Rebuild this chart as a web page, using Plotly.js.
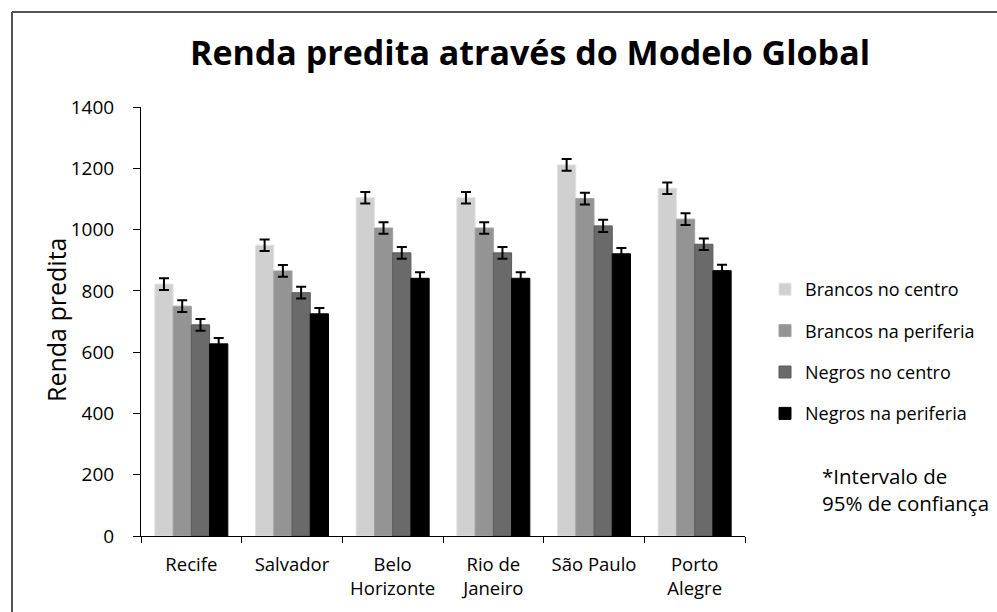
<!DOCTYPE html>
<html>
<head>
<meta charset="utf-8">
<script src="https://cdn.plot.ly/plotly-3.0.1.min.js"></script>
<style>html,body{margin:0;padding:0;background:#fff;}#chart{width:997px;height:612px;}</style>
</head>
<body>
<div id="chart"></div>
<script>
// Data
var cities = ["Recife", "Salvador", "Belo<br>Horizonte", "Rio de<br>Janeiro", "São Paulo", "Porto<br>Alegre"];
var seriesNames = ["Brancos no centro", "Brancos na periferia", "Negros no centro", "Negros na periferia"];
var brancosCentro    = [822, 949, 1104, 1104, 1211, 1135];
var brancosPeriferia = [750, 865, 1005, 1005, 1101, 1034];
var negrosCentro     = [689, 794, 924, 924, 1012, 952];
var negrosPeriferia  = [627, 725, 841, 841, 921, 866];
var errBrancosCentro    = [19, 19, 19, 19, 19, 19];
var errBrancosPeriferia = [19, 19, 19, 19, 19, 19];
var errNegrosCentro     = [19, 19, 19, 19, 20, 19];
var errNegrosPeriferia  = [19, 19, 20, 20, 19, 19];
var yTicks = [0, 200, 400, 600, 800, 1000, 1200, 1400];
var yTitle = "Renda predita";
var chartTitle = "Renda predita através do Modelo Global";
var noteText = "*Intervalo de<br>95% de confiança";

var values = [brancosCentro, brancosPeriferia, negrosCentro, negrosPeriferia];
var errors = [errBrancosCentro, errBrancosPeriferia, errNegrosCentro, errNegrosPeriferia];
var colors = ["#d0d0d0", "#949494", "#6a6a6a", "#000000"];
var lineColors = ["#e2e2e2", "#a0a0a0", "#5a5a5a", "#000000"];

var FONT = "'Open Sans', Lato, sans-serif";
var traces = values.map(function (v, i) {
  return {
    type: "bar",
    name: seriesNames[i],
    x: cities,
    y: v,
    legendgroup: "g" + i,
    marker: {color: colors[i], line: {color: lineColors[i], width: 1}},
    error_y: {type: "data", array: errors[i], visible: true, color: "#000", thickness: 2, width: 5}
  };
});

var W = 997, H = 612;
var L = 141, R = 252, T = 107, B = 76;
var pw = W - L - R, ph = H - T - B;
function px2x(p) { return (p - L) / pw; }
function py2y(p) { return (H - B - p) / ph; }

var layout = {
  width: W, height: H,
  margin: {l: L, r: R, t: T, b: B, pad: 0},
  paper_bgcolor: "#fff", plot_bgcolor: "#fff",
  font: {family: FONT, size: 18, color: "#000"},
  title: {
    text: "<b>" + chartTitle + "</b>",
    font: {family: FONT, size: 34, color: "#000"},
    x: 530 / W, xref: "container", xanchor: "center",
    y: 1 - 53 / H, yref: "container", yanchor: "middle"
  },
  barmode: "group",
  bargap: 0.275,
  bargroupgap: 0,
  xaxis: {
    type: "category",
    showline: true, linecolor: "#000", linewidth: 1,
    ticks: "outside", tickson: "boundaries", ticklen: 6, tickcolor: "#000",
    tickfont: {family: FONT, size: 18.5, color: "#000"},
    ticklabelstandoff: 12,
    showgrid: false, zeroline: false, fixedrange: true
  },
  yaxis: {
    range: [0, 1400],
    tickvals: yTicks,
    ticktext: yTicks.map(String),
    showline: true, linecolor: "#000", linewidth: 1,
    ticks: "outside", ticklen: 7, tickcolor: "#000",
    tickfont: {family: FONT, size: 19, color: "#000"},
    ticklabelstandoff: 15,
    showgrid: false, zeroline: false, fixedrange: true
  },
  legend: {
    x: px2x(765), xanchor: "left",
    y: py2y(271), yanchor: "top",
    font: {family: FONT, size: 18, color: "#000"},
    tracegroupgap: 15,
    bgcolor: "rgba(0,0,0,0)"
  },
  annotations: [
    {
      text: yTitle, textangle: -90,
      xref: "paper", yref: "paper",
      x: px2x(56), y: py2y(320),
      xanchor: "center", yanchor: "middle",
      showarrow: false,
      font: {family: FONT, size: 25, color: "#000"}
    },
    {
      text: noteText,
      xref: "paper", yref: "paper",
      x: px2x(820), y: py2y(489),
      xanchor: "left", yanchor: "middle", align: "left",
      showarrow: false,
      font: {family: FONT, size: 20.5, color: "#000"}
    }
  ],
  shapes: [
    {type: "line", xref: "paper", yref: "paper", x0: px2x(12), x1: px2x(W + 5), y0: py2y(12), y1: py2y(12), line: {color: "#555", width: 2}},
    {type: "line", xref: "paper", yref: "paper", x0: px2x(12), x1: px2x(12), y0: py2y(12), y1: py2y(H + 5), line: {color: "#555", width: 2}}
  ],
  showlegend: true
};

Plotly.newPlot("chart", traces, layout, {displayModeBar: false, staticPlot: true});
</script>
</body>
</html>
